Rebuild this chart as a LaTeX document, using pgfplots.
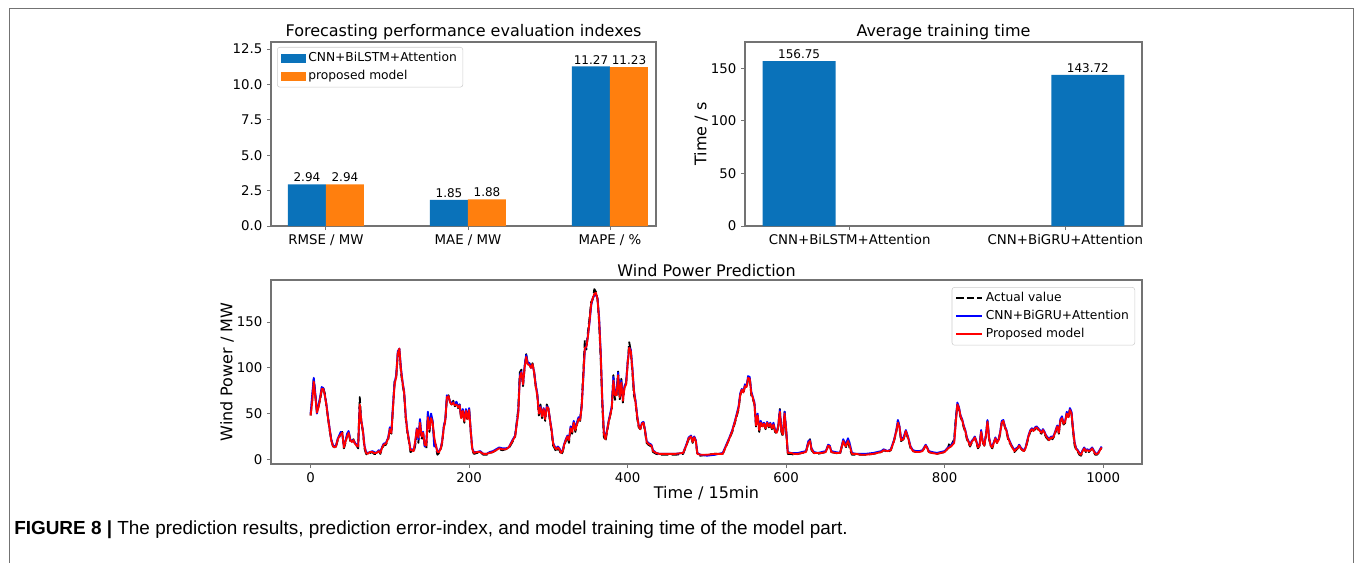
\documentclass[border=0pt]{standalone}
\usepackage{fontspec}
\setmainfont{DejaVu Sans}
\newfontfamily\capfont{Liberation Sans}
\usepackage{pgfplots}
\pgfplotsset{compat=1.18}
\usepackage{pgfplotstable}
\definecolor{mblue}{RGB}{10,114,186}
\definecolor{morange}{RGB}{255,127,14}
\definecolor{spine}{RGB}{115,115,115}

\pgfplotstableread{
t A B R
0 48 50 48
2 65 70 62
4 88 89 85
6 70 72 68
8 52 50 51
10 58 60 57
12 65 68 66
14 75 79 77
16 78 78 77
18 72 70 70
20 58 60 59
22 45 46 45
24 32 34 33
26 22 22 21
28 15 16 15
30 12 14 13
32 14 15 14
34 20 22 21
36 24 26 25
38 28 30 27
40 30 28 29
42 12 14 13
44 18 20 19
46 26 28 25
48 30 31 29
50 20 22 21
52 18 20 19
54 22 21 21
56 17 18 17
58 15 16 15
60 12 14 14
62 68 58 60
64 40 42 42
66 30 32 31
68 12 15 14
70 6 8 7
72 5 7 6
75 7 8 8
78 8 9 8
80 6 8 7
83 6 7 7
86 9 10 9
88 6 8 7
90 12 13 12
92 15 17 16
95 16 18 17
98 22 24 23
100 34 35 33
102 28 30 29
104 58 60 57
106 85 84 82
108 90 92 90
110 115 118 116
112 120 121 121
114 95 100 98
116 82 85 84
118 72 74 73
120 45 48 47
122 30 32 31
124 20 22 21
126 8 11 10
128 9 11 10
130 8 10 9
132 15 18 20
134 32 34 33
136 18 22 24
138 42 44 40
140 22 26 25
142 28 30 29
144 15 14 16
146 12 18 15
148 50 52 46
150 30 34 33
152 48 50 45
154 40 42 40
156 22 14 24
158 14 16 15
160 5 8 8
162 7 9 8
164 10 12 11
166 18 20 19
168 35 36 34
170 42 44 43
172 68 70 68
174 70 68 69
176 62 63 62
178 60 62 60
180 64 62 62
182 58 60 59
184 62 63 60
186 56 58 57
188 60 60 59
190 44 46 45
192 52 55 53
194 40 44 42
196 54 55 53
198 42 46 44
200 55 56 54
202 30 32 31
204 10 12 11
206 6 8 7
210 7 8 8
214 8 9 8
218 5 6 6
222 5 6 6
226 7 8 7
230 8 9 8
234 10 11 10
238 11 13 12
242 10 12 11
246 11 12 11
250 12 13 13
254 18 20 19
258 25 26 25
262 55 52 50
264 95 92 90
266 98 96 95
268 80 82 82
270 100 102 100
272 115 114 112
274 104 106 104
276 105 105 103
278 100 100 100
280 105 103 104
282 95 96 95
284 80 82 80
286 70 72 70
288 48 52 50
290 60 58 57
292 45 48 47
294 55 56 55
296 42 46 44
298 60 58 57
300 55 56 56
302 42 44 43
304 30 33 32
306 15 18 17
308 12 14 13
310 8 12 11
312 12 14 13
314 10 12 11
316 5 8 7
318 8 10 9
320 15 17 16
322 20 22 21
324 25 26 25
326 18 22 21
328 35 36 34
330 28 32 30
332 40 42 40
334 30 34 32
336 38 40 38
338 45 46 44
340 42 44 43
342 60 58 57
344 95 88 90
346 130 120 122
348 120 124 123
350 140 136 135
352 155 150 152
354 172 168 170
356 175 176 176
358 186 179 181
360 183 180 182
362 175 176 175
364 150 155 152
366 110 118 115
368 60 66 64
370 25 30 28
372 20 24 22
374 30 32 31
376 40 42 41
378 48 50 48
380 55 58 56
382 92 90 86
384 65 72 70
386 70 72 70
388 96 95 92
390 65 70 68
392 88 86 84
394 62 66 64
396 80 80 78
398 82 84 82
400 105 106 104
402 128 122 122
404 118 120 118
406 95 100 98
408 70 75 74
410 62 64 62
412 45 48 47
414 35 37 36
416 33 34 33
418 38 40 39
420 40 41 40
422 30 32 31
424 18 20 19
426 16 18 17
428 15 17 16
430 14 16 15
432 8 10 9
436 6 7 7
440 5 6 6
450 5 6 6
460 5 6 6
470 6 7 7
474 15 16 15
477 22 24 23
480 25 26 25
482 18 20 19
484 24 25 24
486 20 21 20
488 5 7 6
492 4 5 5
500 5 4 5
510 6 5 6
520 6 7 6
524 14 15 14
528 22 23 22
532 30 32 31
536 42 44 43
540 55 58 56
542 70 72 70
544 75 77 76
546 72 74 73
548 80 82 80
550 78 80 79
552 88 91 89
554 90 90 88
556 70 74 72
558 66 68 67
560 60 62 60
562 35 38 37
564 48 50 48
566 30 33 32
568 40 42 40
570 35 37 36
572 38 40 39
574 33 35 34
576 40 41 40
578 35 37 36
580 38 40 39
582 33 35 34
584 38 40 38
586 30 32 31
588 28 30 29
590 35 37 36
592 55 54 52
594 30 33 31
596 25 28 27
598 52 52 50
600 30 33 32
602 6 8 7
606 6 7 7
610 5 7 6
615 6 7 6
620 7 8 7
625 8 9 8
628 18 20 18
630 22 21 20
632 10 12 11
635 7 8 7
640 6 7 7
645 7 8 7
650 8 9 8
653 15 16 15
655 14 15 14
657 8 9 8
662 7 8 7
668 6 7 7
672 20 22 20
675 12 16 14
678 22 23 20
680 12 18 15
683 5 7 6
688 5 6 6
695 5 6 5
700 5 6 5
710 6 7 6
715 7 8 7
720 8 9 8
723 10 11 10
728 8 9 9
732 10 11 10
736 20 21 20
739 30 32 31
741 42 43 40
743 35 36 35
745 20 22 21
748 22 24 22
751 30 32 31
754 22 24 23
757 12 14 13
760 9 10 9
764 8 9 8
768 8 9 8
772 9 10 9
776 15 16 15
778 12 13 12
780 8 9 8
784 7 8 7
790 6 7 6
795 7 8 7
800 8 9 8
804 12 13 12
806 18 14 13
808 15 15 14
812 22 20 18
814 45 42 40
816 60 62 60
818 55 57 56
820 46 48 47
822 42 44 43
824 35 37 36
826 30 32 31
828 22 24 23
830 18 20 19
832 14 16 15
834 18 20 19
836 20 22 21
838 24 25 24
840 18 20 19
842 12 14 13
844 15 16 15
846 30 32 30
848 18 20 19
850 15 16 15
852 25 27 26
854 42 43 41
856 22 24 23
858 15 16 15
860 12 14 13
862 18 19 18
864 22 24 23
866 18 19 18
868 20 22 21
870 28 30 29
872 40 42 40
874 42 43 42
876 35 36 35
878 30 32 31
880 22 24 23
882 18 20 19
884 15 16 15
886 12 13 12
888 8 10 9
890 10 12 11
892 12 13 12
894 15 16 15
896 12 13 12
898 10 11 10
900 9 10 9
902 12 13 12
904 18 20 19
906 25 27 26
908 30 32 31
910 32 34 33
912 30 32 31
914 33 35 34
916 35 36 35
918 32 34 33
920 30 32 31
922 28 30 29
924 32 33 32
926 28 30 29
928 24 26 25
930 22 24 23
932 20 22 21
934 24 25 24
936 22 24 23
938 25 27 26
940 30 32 31
942 35 37 36
944 28 30 29
946 42 44 42
948 45 47 45
950 38 40 39
952 40 42 41
954 50 52 50
956 45 47 46
958 55 56 54
960 50 52 50
962 30 33 32
964 15 18 17
966 10 12 11
968 8 10 9
970 5 7 6
972 4 6 5
974 8 10 9
976 12 13 12
978 8 10 9
980 10 11 10
982 8 10 9
984 10 11 10
986 12 13 12
988 8 10 9
990 5 7 6
992 5 6 6
994 7 8 7
996 10 11 10
998 13 14 13
}\windtab

\pgfplotsset{
  mystyle/.style={
    scale only axis,
    axis line style={spine, line width=0.8pt},
    tick style={spine, line width=0.7pt},
    tick align=outside, major tick length=3pt,
    xtick pos=left, ytick pos=left,
    /pgf/number format/assume math mode=true,
    /pgf/number format/1000 sep={},
    tick label style={font=\fontsize{10}{12}\selectfont},
    title style={font=\fontsize{12}{14}\selectfont, at={(0.5,1)}, anchor=base, yshift=-1.5pt},
    label style={font=\fontsize{12}{14}\selectfont},
    legend style={draw=black!20, rounded corners=2pt, fill=white,
      font=\fontsize{9.2}{11}\selectfont, inner xsep=2.5pt, inner ysep=2pt, row sep=1pt},
    legend cell align=left,
  }
}

\begin{document}
\begin{tikzpicture}
\useasboundingbox (0,0) rectangle (1016.25pt,-421.5pt);
% frame
\draw[black!55, line width=1.1pt] (9.5*0.75pt,-430pt) -- (9.5*0.75pt,-8.5*0.75pt) -- (1353.5*0.75pt,-8.5*0.75pt) -- (1353.5*0.75pt,-430pt);

% axis 1
\begin{axis}[mystyle,
  at={(271*0.75pt,-226*0.75pt)}, anchor=south west,
  width=288.75pt, height=138pt,
  xmin=-0.387, xmax=2.324, ymin=0, ymax=13,
  ybar=0pt, bar width=28.5pt,
  xtick={0,1,2}, xticklabels={RMSE / MW, MAE / MW, MAPE / \%},
  ytick={0,2.5,5,7.5,10,12.5}, yticklabels={0.0,2.5,5.0,7.5,10.0,12.5},
  title={Forecasting performance evaluation indexes},
  nodes near coords, point meta=explicit symbolic,
  every node near coord/.append style={font=\fontsize{9}{11}\selectfont, inner sep=1.5pt, text=black},
  legend style={at={(0.0156,0.973)}, anchor=north west},
  legend image code/.code={\fill[sharp corners,#1] (0pt,-3.5pt) rectangle (18.75pt,3.5pt);},
]
\addplot[fill=mblue, draw=none] coordinates {(0,2.94)[2.94] (1,1.85)[1.85] (2,11.27)[11.27]};
\addplot[fill=morange, draw=none] coordinates {(0,2.94)[2.94] (1,1.88)[1.88] (2,11.23)[11.23]};
\legend{CNN+BiLSTM+Attention, proposed model}
\end{axis}

% axis 2
\begin{axis}[mystyle,
  at={(745*0.75pt,-226*0.75pt)}, anchor=south west,
  width=297.75pt, height=138pt,
  xmin=-0.1875, xmax=1.1875, ymin=0, ymax=175,
  ybar, bar width=54.75pt, bar shift=0pt,
  xtick={0.175,0.922}, xticklabels={CNN+BiLSTM+Attention, CNN+BiGRU+Attention},
  ytick={0,50,100,150},
  title={Average training time},
  ylabel={Time / s},
  ylabel style={at={(axis description cs:-0.111,0.5)}, anchor=center},
  nodes near coords, point meta=explicit symbolic,
  every node near coord/.append style={font=\fontsize{9}{11}\selectfont, inner sep=1.5pt, text=black},
]
\addplot[fill=mblue, draw=none] coordinates {(0,156.75)[156.75] (1,143.72)[143.72]};
\end{axis}

% axis 3
\begin{axis}[mystyle,
  at={(271*0.75pt,-464*0.75pt)}, anchor=south west,
  width=653.25pt, height=138pt,
  xmin=-49.95, xmax=1048.95, ymin=-5.1, ymax=196,
  xtick={0,200,400,600,800,1000}, ytick={0,50,100,150},
  title={Wind Power Prediction},
  title style={yshift=-1.5pt},
  xlabel={Time / 15min},
  xlabel style={at={(axis description cs:0.5,-0.158)}, anchor=center},
  ylabel={Wind Power / MW},
  ylabel style={at={(axis description cs:-0.0505,0.5)}, anchor=center},
  legend style={at={(0.992,0.962)}, anchor=north east},
  legend image code/.code={\draw[sharp corners,#1] (0pt,0pt) -- (19.5pt,0pt);},
]
\addplot[black, dash pattern=on 5.5pt off 2.4pt, line width=1.4pt, line join=round] table[x=t,y=A]{\windtab};
\addplot[blue, line width=1.4pt, line join=round] table[x=t,y=B]{\windtab};
\addplot[red, line width=1.4pt, line join=round] table[x=t,y=R]{\windtab};
\legend{Actual value, CNN+BiGRU+Attention, Proposed model}
\end{axis}

% caption
\node[anchor=base west, inner sep=0pt] at (14*0.75pt,-534*0.75pt)
  {\capfont\fontsize{14.2}{16}\selectfont\textbf{FIGURE 8 |} The prediction results, prediction error-index, and model training time of the model part.};
\end{tikzpicture}
\end{document}
